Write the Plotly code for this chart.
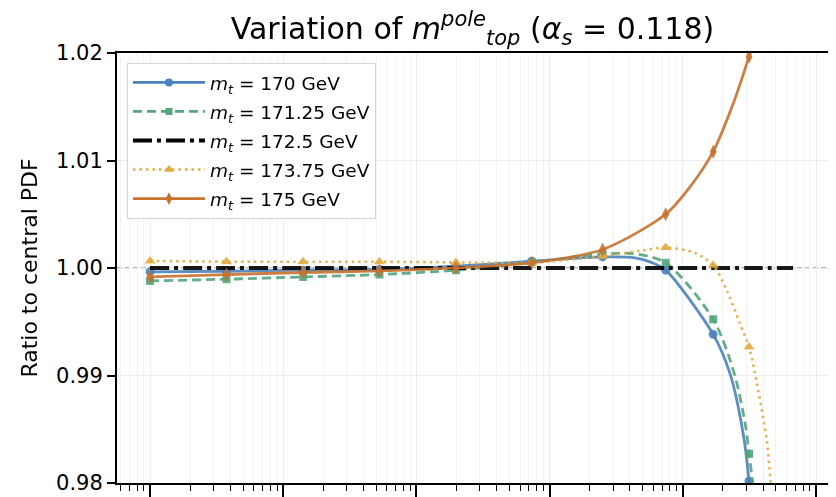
import plotly.graph_objects as go

# ---------------- data ----------------
# x positions of the plotted markers (log x axis, decades from 1e-5 to 1)
x_markers = [1.0e-5, 3.75e-5, 1.41e-4, 5.28e-4, 1.98e-3, 7.34e-3, 0.0250, 0.0744, 0.169, 0.314]

# ratio values at the marker positions
mt170_markers = [0.99964, 0.99970, 0.99980, 0.99986, 1.00017, 1.00063, 1.00103, 0.99980, 0.99383, 0.98017]
mt17125_markers = [0.99880, 0.99896, 0.99917, 0.99939, 0.99980, 1.00054, 1.00129, 1.00048, 0.99523, 0.98272]
mt1725_markers = [1.0, 1.0, 1.0, 1.0, 1.0, 1.0, 1.0, 1.0, 1.0, 1.0]
mt17375_markers = [1.00066, 1.00059, 1.00058, 1.00058, 1.00052, 1.00050, 1.00110, 1.00190, 1.00026, 0.99265]
mt175_markers = [0.99917, 0.99939, 0.99958, 0.99973, 1.00001, 1.00048, 1.00172, 1.00501, 1.01082, 1.01966]

# additional points (between / beyond markers)
mt170_extra_x = [0.04377, 0.05871, 0.2262, 0.2894, 0.3544]
mt170_extra_y = [1.00095, 1.00050, 0.99017, 0.98396, 0.97400]
mt17125_extra_x = [0.04155, 0.2436, 0.2967, 0.3348, 0.3670]
mt17125_extra_y = [1.00135, 0.99017, 0.98520, 0.98000, 0.97550]
mt1725_extra_x = [0.672]
mt1725_extra_y = [1.0]
mt17375_extra_x = [0.04772, 0.1235, 0.2136, 0.2688, 0.3483, 0.4265, 0.4570, 0.5008]
mt17375_extra_y = [1.00160, 1.00140, 0.99793, 0.99483, 0.99020, 0.98400, 0.98000, 0.97460]
mt175_extra_x = [0.1133, 0.2394, 0.3799]
mt175_extra_y = [1.00755, 1.01532, 1.02310]

labels = ["<i>m</i><sub><i>t</i></sub> = 170 GeV",
          "<i>m</i><sub><i>t</i></sub> = 171.25 GeV",
          "<i>m</i><sub><i>t</i></sub> = 172.5 GeV",
          "<i>m</i><sub><i>t</i></sub> = 173.75 GeV",
          "<i>m</i><sub><i>t</i></sub> = 175 GeV"]

y_ticks = [0.98, 0.99, 1.00, 1.01, 1.02]
y_ticktext = ["0.98", "0.99", "1.00", "1.01", "1.02"]

# ---------------- styles ----------------
styles = [
    dict(color="#4a82bd", dash="solid", width=2.8, symbol="circle", msize=9, markers=True),
    dict(color="#52a67c", dash="9px,5px", width=2.8, symbol="square", msize=8, markers=True),
    dict(color="#000000", dash="19px,5px,4px,5px", width=3.8, symbol="circle", msize=1, markers=False),
    dict(color="#e3ab3e", dash="2.5px,4px", width=2.6, symbol="triangle-up", msize=10, markers=True),
    dict(color="#c8722f", dash="solid", width=2.8, symbol="diamond-tall", msize=10, markers=True),
]

series = [
    (mt170_markers, mt170_extra_x, mt170_extra_y),
    (mt17125_markers, mt17125_extra_x, mt17125_extra_y),
    (mt1725_markers, mt1725_extra_x, mt1725_extra_y),
    (mt17375_markers, mt17375_extra_x, mt17375_extra_y),
    (mt175_markers, mt175_extra_x, mt175_extra_y),
]

fig = go.Figure()

for i, ((mvals, ex, ey), st, lab) in enumerate(zip(series, styles, labels)):
    pts = sorted(list(zip(x_markers, mvals)) + list(zip(ex, ey)))
    cx = [p[0] for p in pts]
    cy = [p[1] for p in pts]
    fig.add_trace(go.Scatter(
        x=cx, y=cy, mode="lines",
        line=dict(color=st["color"], width=st["width"], dash=st["dash"],
                  shape="spline", smoothing=0.8),
        opacity=0.9, showlegend=False, legendgroup=f"g{i}", hoverinfo="skip"))
    if st["markers"]:
        fig.add_trace(go.Scatter(
            x=x_markers, y=mvals, mode="markers",
            marker=dict(color=st["color"], size=st["msize"], symbol=st["symbol"]),
            opacity=0.9, showlegend=False, legendgroup=f"g{i}", cliponaxis=True))
    fig.add_trace(go.Scatter(
        x=[None], y=[None],
        mode="lines+markers" if st["markers"] else "lines",
        line=dict(color=st["color"], width=st["width"], dash=st["dash"]),
        marker=dict(color=st["color"], size=max(st["msize"] - 1, 1), symbol=st["symbol"]),
        name=lab, legendgroup=f"g{i}", showlegend=True))

fig.add_hline(y=1.0, line=dict(color="#9a9a9a", width=1.3, dash="5px,3px"), layer="below")

font_family = "DejaVu Sans, Liberation Sans, sans-serif"

# the page body adds an 8px margin, so the figure is sized to fit the window
fig.update_layout(
    width=828, height=489,
    margin=dict(l=109, r=8, t=45, b=14),
    paper_bgcolor="white", plot_bgcolor="white",
    font=dict(family=font_family, color="black"),
    title=dict(
        text="Variation of <i>m</i><sup><i>pole</i></sup><sub><i>top</i></sub> (<i>α</i><sub><i>s</i></sub> = 0.118)",
        x=0.5, xref="paper", xanchor="center",
        y=1 - 20 / 489, yanchor="middle",
        font=dict(size=30, family=font_family)),
    showlegend=True,
    legend=dict(
        x=0.014, y=0.977, xanchor="left", yanchor="top",
        bgcolor="rgba(255,255,255,0.85)", bordercolor="#d5d5d5", borderwidth=1,
        font=dict(size=18.5, family=font_family),
        tracegroupgap=2, itemwidth=72),
)

fig.update_xaxes(
    type="log", range=[-5.248, 0.090],
    dtick=1, showticklabels=False, automargin=False,
    ticks="outside", ticklen=12, tickwidth=1.8, tickcolor="black",
    showgrid=True, gridcolor="#ececec", gridwidth=1,
    minor=dict(dtick="D1", ticks="outside", ticklen=6, tickwidth=1.2, tickcolor="black",
               showgrid=True, gridcolor="#f2f2f2", gridwidth=1),
    showline=True, linecolor="black", linewidth=2, mirror=True, zeroline=False,
)
fig.update_yaxes(
    range=[0.98, 1.02], tickvals=y_ticks, ticktext=y_ticktext, automargin=False,
    ticks="outside", ticklen=8, tickwidth=1.8, tickcolor="black",
    tickfont=dict(size=21, family=font_family),
    showgrid=True, gridcolor="#ececec", gridwidth=1,
    showline=True, linecolor="black", linewidth=2, mirror=True, zeroline=False,
    title=dict(text="Ratio to central PDF", font=dict(size=22, family=font_family), standoff=12),
)

fig.write_html("out.html")
